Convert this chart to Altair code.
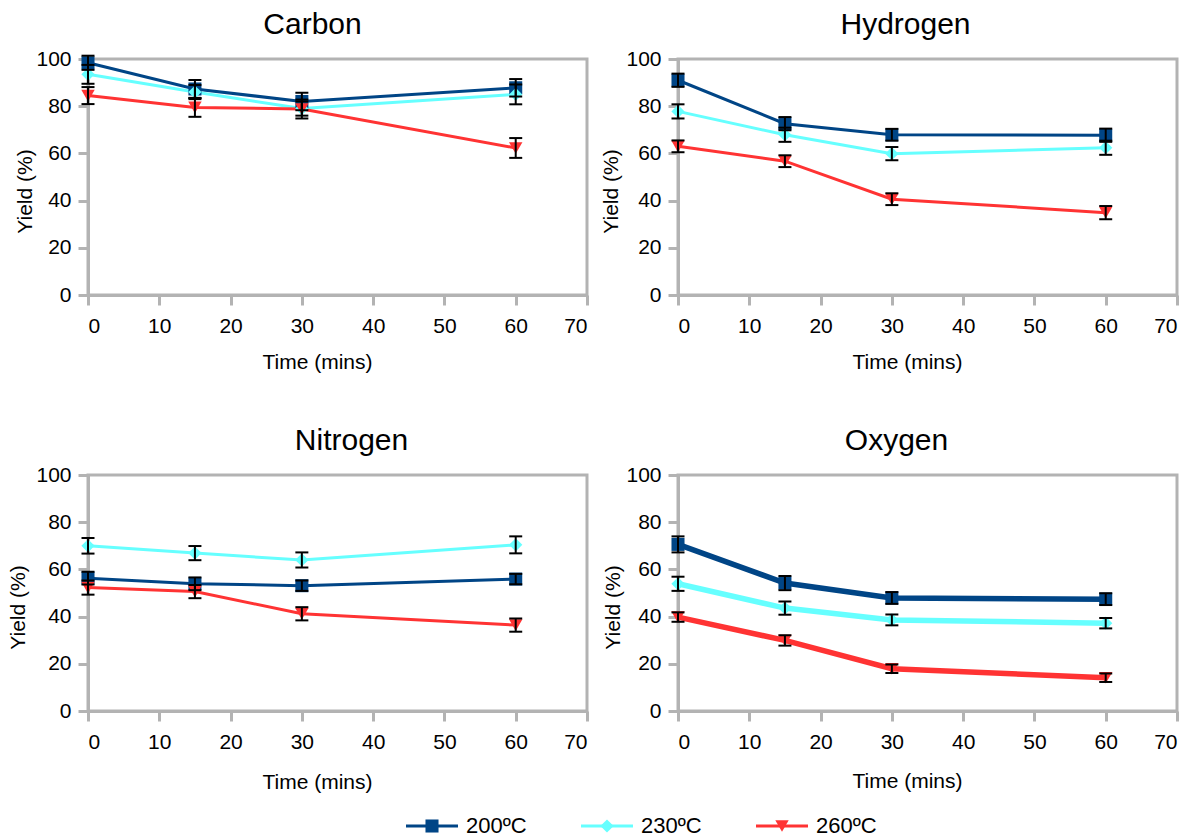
import altair as alt
import pandas as pd

# Reaction times (minutes) and temperature series
times = [0, 15, 30, 60]
temps = [200, 230, 260]
temp_labels = ["200ºC", "230ºC", "260ºC"]
colors = ["#004586", "#66ffff", "#ff3333"]
shapes = ["square", "diamond", "triangle-down"]

# Yield (%) per element and temperature, with error-bar half widths
carbon_200 = [98.4, 87.3, 82.0, 87.8]
carbon_200_err = [3.0, 3.8, 3.7, 3.7]
carbon_230 = [93.5, 86.0, 79.0, 85.0]
carbon_230_err = [4.0, 3.0, 3.0, 4.2]
carbon_260 = [84.5, 79.5, 78.8, 62.3]
carbon_260_err = [3.6, 4.0, 4.0, 4.2]

hydrogen_200 = [91.0, 72.6, 67.9, 67.7]
hydrogen_200_err = [2.8, 2.8, 2.5, 2.8]
hydrogen_230 = [77.8, 67.9, 59.9, 62.4]
hydrogen_230_err = [3.0, 3.0, 2.8, 3.0]
hydrogen_260 = [63.0, 56.7, 40.6, 34.9]
hydrogen_260_err = [2.5, 2.5, 2.5, 2.8]

nitrogen_200 = [56.3, 53.9, 53.1, 55.9]
nitrogen_200_err = [2.7, 2.7, 2.2, 2.2]
nitrogen_230 = [70.0, 66.9, 64.0, 70.4]
nitrogen_230_err = [3.3, 3.0, 3.2, 3.6]
nitrogen_260 = [52.3, 50.6, 41.2, 36.4]
nitrogen_260_err = [3.0, 2.8, 2.8, 2.8]

oxygen_200 = [70.6, 54.2, 47.9, 47.4]
oxygen_200_err = [3.4, 3.0, 2.5, 2.5]
oxygen_230 = [53.9, 43.6, 38.6, 37.2]
oxygen_230_err = [3.0, 2.8, 2.3, 2.2]
oxygen_260 = [39.8, 29.9, 17.9, 14.1]
oxygen_260_err = [2.0, 2.2, 1.8, 1.8]

FONT = "Liberation Sans"
PANEL_W = 499
PANEL_H = 236
ROW_GAP = 180
LEGEND_GAP = 105


def frame(series):
    rows = []
    for temp, (vals, errs) in zip(temps, series):
        for t, v, e in zip(times, vals, errs):
            rows.append({"time": t, "temp": temp, "value": v, "err": e})
    return pd.DataFrame(rows)


def panel(name, series, line_width, title_dx, ytitle_x, xtitle_y):
    df = frame(series)
    base = alt.Chart(df)

    x = alt.X(
        "time:Q",
        title="Time (mins)",
        scale=alt.Scale(domain=[0, 70], nice=False),
        axis=alt.Axis(
            values=list(range(0, 71, 10)),
            labelPadding=10,
            titleX=229,
            titleY=xtitle_y,
            titleBaseline="middle",
        ),
    )
    y_axis = alt.Axis(
        values=list(range(0, 101, 20)),
        labelPadding=7,
        titleX=ytitle_x,
        titleY=132,
        titleAlign="center",
        titleBaseline="middle",
    )
    y_scale = alt.Scale(domain=[0, 100], nice=False)
    color = alt.Color(
        "temp:N", scale=alt.Scale(domain=temps, range=colors), legend=None
    )

    lines = base.mark_line(strokeWidth=line_width).encode(
        x=x,
        y=alt.Y("value:Q", title="Yield (%)", scale=y_scale, axis=y_axis),
        color=color,
    )
    points = base.mark_point(filled=True, opacity=1).encode(
        x=x,
        y=alt.Y("value:Q", title="Yield (%)"),
        color=color,
        shape=alt.Shape(
            "temp:N", scale=alt.Scale(domain=temps, range=shapes), legend=None
        ),
        size=alt.Size(
            "temp:N", scale=alt.Scale(domain=temps, range=[170, 180, 190]), legend=None
        ),
    )
    err = base.transform_calculate(
        lo="datum.value - datum.err", hi="datum.value + datum.err"
    )
    bars = err.mark_rule(color="black", strokeWidth=2).encode(
        x=alt.X("time:Q", title="Time (mins)"),
        y=alt.Y("lo:Q", title="Yield (%)"),
        y2="hi:Q",
    )
    cap_lo = err.mark_rule(
        color="black", strokeWidth=2, xOffset=-6.5, x2Offset=6.5
    ).encode(
        x=alt.X("time:Q", title="Time (mins)"),
        x2="time:Q",
        y=alt.Y("lo:Q", title="Yield (%)"),
    )
    cap_hi = err.mark_rule(
        color="black", strokeWidth=2, xOffset=-6.5, x2Offset=6.5
    ).encode(
        x=alt.X("time:Q", title="Time (mins)"),
        x2="time:Q",
        y=alt.Y("hi:Q", title="Yield (%)"),
    )

    return alt.layer(lines, points, bars, cap_lo, cap_hi).properties(
        width=PANEL_W,
        height=PANEL_H,
        title=alt.TitleParams(
            text=name,
            font=FONT,
            fontSize=30,
            fontWeight="normal",
            color="black",
            anchor="middle",
            frame="group",
            baseline="alphabetic",
            offset=-16,
            dx=title_dx,
        ),
    )


carbon = panel(
    "Carbon",
    [(carbon_200, carbon_200_err), (carbon_230, carbon_230_err), (carbon_260, carbon_260_err)],
    3, -25, -63, 67,
)
hydrogen = panel(
    "Hydrogen",
    [(hydrogen_200, hydrogen_200_err), (hydrogen_230, hydrogen_230_err), (hydrogen_260, hydrogen_260_err)],
    3, -22, -67, 67,
)
nitrogen = panel(
    "Nitrogen",
    [(nitrogen_200, nitrogen_200_err), (nitrogen_230, nitrogen_230_err), (nitrogen_260, nitrogen_260_err)],
    3, 14, -70, 71,
)
oxygen = panel(
    "Oxygen",
    [(oxygen_200, oxygen_200_err), (oxygen_230, oxygen_230_err), (oxygen_260, oxygen_260_err)],
    5.5, -31, -65, 70,
)

# Legend row: a short line with the series marker, then its label
legend_df = pd.DataFrame({"temp": temps, "label": temp_labels})
legend_base = alt.Chart(legend_df)
lx = alt.X(
    "temp:Q", scale=alt.Scale(domain=[200, 260], range=[344, 694]), axis=None
)
lcolor = alt.Color("temp:N", scale=alt.Scale(domain=temps, range=colors), legend=None)
legend_lines = legend_base.mark_rule(strokeWidth=3, xOffset=-26, x2Offset=26).encode(
    x=lx, x2="temp:Q", y=alt.value(10), color=lcolor
)
legend_pts = legend_base.mark_point(filled=True, opacity=1).encode(
    x=lx,
    y=alt.value(10),
    color=lcolor,
    shape=alt.Shape("temp:N", scale=alt.Scale(domain=temps, range=shapes), legend=None),
    size=alt.Size("temp:N", scale=alt.Scale(domain=temps, range=[170, 180, 190]), legend=None),
)
legend_text = legend_base.mark_text(
    align="left", baseline="middle", dx=34, fontSize=22, font=FONT, color="black"
).encode(x=lx, y=alt.value(10), text="label:N")
legend = alt.layer(legend_lines, legend_pts, legend_text).properties(
    width=1094, height=20, view=alt.ViewBackground(stroke="transparent")
)

# With flush bounds the nested rows report no height, so the spacing
# between them is measured from the top of one row to the top of the next.
row1 = alt.hconcat(carbon, hydrogen, spacing=91, bounds="flush")
row2 = alt.hconcat(nitrogen, oxygen, spacing=91, bounds="flush")
grid = alt.vconcat(row1, row2, spacing=PANEL_H + ROW_GAP, bounds="flush")

chart = (
    alt.vconcat(
        grid, legend, spacing=2 * PANEL_H + ROW_GAP + LEGEND_GAP, bounds="flush"
    )
    .resolve_scale(color="independent", shape="independent", size="independent")
    .properties(padding={"left": 5, "top": 8, "right": 5, "bottom": 0}, background="white")
    .configure_view(stroke="#b3b3b3", strokeWidth=3)
    .configure_axis(
        grid=False,
        domainColor="#b3b3b3",
        domainWidth=3,
        tickColor="#b3b3b3",
        tickWidth=3,
        tickSize=10,
        labelFont=FONT,
        labelFontSize=21,
        labelColor="black",
        titleFont=FONT,
        titleFontSize=21,
        titleFontWeight="normal",
        titleColor="black",
    )
)

chart.save("out.html", embed_options={"renderer": "svg", "actions": False})
